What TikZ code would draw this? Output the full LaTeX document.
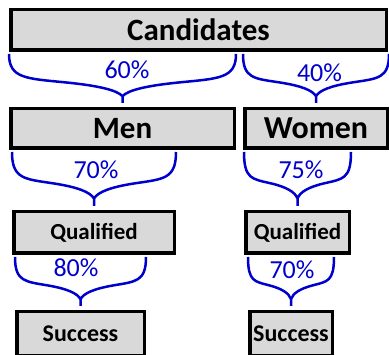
\documentclass[tikz,border=0pt]{standalone}
\usepackage{fontspec}
\setmainfont{Carlito}
\usetikzlibrary{calc}
\definecolor{boxgray}{RGB}{217,217,217}
\definecolor{pctblue}{RGB}{0,0,205}
\tikzstyle{stage} = [draw=black, line width=3.5pt, fill=boxgray, inner sep=0pt]
\tikzstyle{brace} = [pctblue, line width=2.5pt, line join=round]
\tikzstyle{pct} = [pctblue, inner sep=0pt, font=\fontsize{26}{30}\selectfont]

\begin{document}
\begin{tikzpicture}[x=1pt,y=-1pt]
\useasboundingbox (0,0) rectangle (389,355);
\node[stage, minimum width=375.5pt, minimum height=40.5pt, font=\bfseries\fontsize{31}{35}\selectfont] (cand) at (198.5,30) {Candidates};
\node[stage, minimum width=223.5pt, minimum height=39.5pt, font=\bfseries\fontsize{31}{35}\selectfont] (men) at (122.5,128.5) {Men};
\node[stage, minimum width=142.5pt, minimum height=39.5pt, font=\bfseries\fontsize{32}{36}\selectfont] (women) at (316,128.5) {Women};
\node[stage, minimum width=160.5pt, minimum height=41.5pt, font=\bfseries\fontsize{23}{27}\selectfont] (qualL) at (94,232.5) {Qualified};
\node[stage, minimum width=103.5pt, minimum height=41.5pt, font=\bfseries\fontsize{23}{27}\selectfont] (qualR) at (297.5,232.5) {Qualified};
\node[stage, minimum width=127.5pt, minimum height=44.5pt, font=\bfseries\fontsize{24}{28}\selectfont] (succL) at (80.5,334) {Success};
\node[stage, minimum width=82.5pt, minimum height=44.5pt, font=\bfseries\fontsize{24}{28}\selectfont] (succR) at (291,334) {Success};
% braces with their shares
\foreach \up/\low/\lab/\dx/\dy in {cand/men/60/4.5/-37, cand/women/40/3.5/-34, men/qualL/70/2/-40, women/qualR/75/3.5/-40, qualL/succL/80/-4.5/-42, qualR/succR/70/1/-40}{
  \draw[brace] let \p1=($(\low.west |- \up.south)+(0,2)$), \p2=($(\low.east |- \up.south)+(0,2)$), \p3=($(\low.north)+(0,-4)$), \n1={\x3-\x1}, \n2={\y1-\y3} in
    (\x1,\y1) .. controls (\x1,{\y1-0.5*\n2}) and ({\x1+0.15*\n1},{\y1-0.5*\n2}) .. ({\x1+0.5*\n1},{\y1-0.58*\n2})
    .. controls ({\x1+0.8*\n1},{\y1-0.65*\n2}) and ({\x3-0.05*\n1},{\y1-0.74*\n2}) .. (\x3,{\y1-0.86*\n2})
    .. controls ({\x3+0.05*\n1},{\y1-0.74*\n2}) and ({\x3+0.2*\n1},{\y1-0.65*\n2}) .. ({\x3+0.5*\n1},{\y1-0.58*\n2})
    .. controls ({\x3+0.85*\n1},{\y1-0.5*\n2}) and (\x2,{\y1-0.5*\n2}) .. (\x2,\y2)
    (\x3,{\y1-0.86*\n2}) -- (\x3,\y3);
  \node[pct] (p-\low) at ($(\low.north)+(\dx,\dy)$) {\lab\%};
}
\end{tikzpicture}
\end{document}
